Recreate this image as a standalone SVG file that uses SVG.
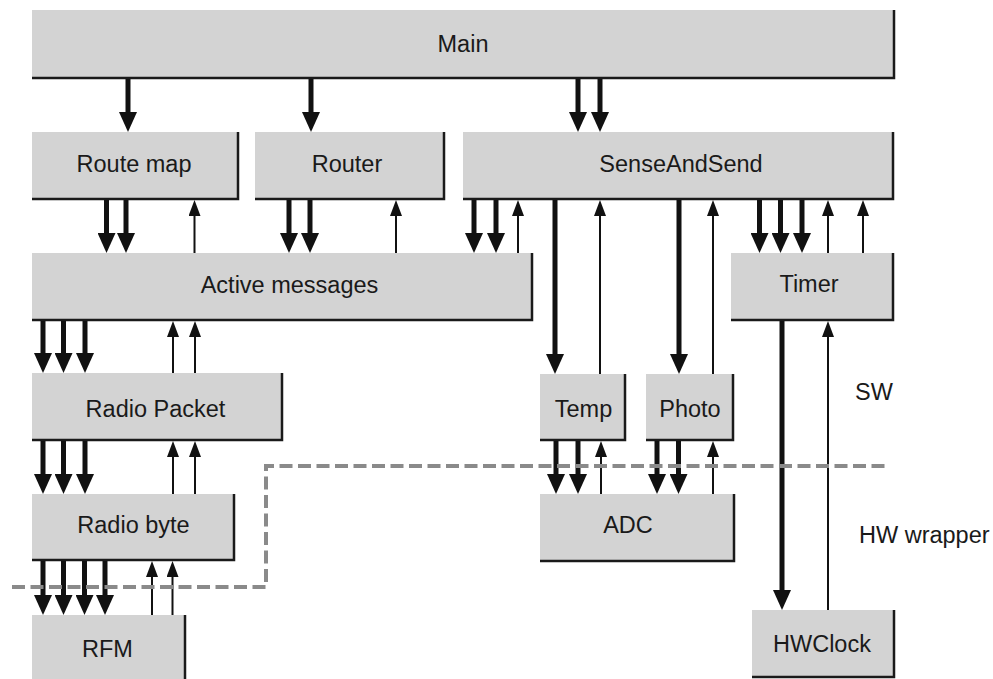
<svg xmlns="http://www.w3.org/2000/svg" width="993" height="679" viewBox="0 0 993 679">
<defs>
<style>
.box{fill:#d3d3d3}
.edge{fill:none;stroke:#1a1a1a;stroke-width:2.5}
.lbl{font-family:"Liberation Sans",Arial,sans-serif;font-size:23.5px;fill:#1a1a1a;text-anchor:middle}
.side{font-family:"Liberation Sans",Arial,sans-serif;font-size:23.5px;fill:#1a1a1a}
.thick{stroke:#111;stroke-width:5;fill:none;marker-end:url(#hThick)}
.thin{stroke:#111;stroke-width:2;fill:none;marker-end:url(#hThin)}
.bound{fill:none;stroke:#8a8a8a;stroke-width:4;stroke-dasharray:13 5.5}
</style>
<marker id="hThick" viewBox="0 0 20 18" markerWidth="20" markerHeight="18" refX="0" refY="9" orient="auto" markerUnits="userSpaceOnUse">
<path d="M0,0 L20,9 L0,18 z" fill="#111"/>
</marker>
<marker id="hThin" viewBox="0 0 16 12" markerWidth="16" markerHeight="12" refX="0" refY="6" orient="auto" markerUnits="userSpaceOnUse">
<path d="M0,0 L16,6 L0,12 z" fill="#111"/>
</marker>
</defs>
<rect width="993" height="679" fill="#fff"/>

<g id="main"><rect class="box" x="32" y="10" width="862" height="68"/><path class="edge" d="M32,78 H894 V10"/><text class="lbl" x="463" y="52">Main</text></g>
<g id="routemap"><rect class="box" x="32" y="132" width="206" height="67"/><path class="edge" d="M32,199 H238 V132"/><text class="lbl" x="134" y="172">Route map</text></g>
<g id="router"><rect class="box" x="255" y="132" width="189" height="67"/><path class="edge" d="M255,199 H444 V132"/><text class="lbl" x="347" y="172">Router</text></g>
<g id="senseandsend"><rect class="box" x="463" y="132" width="430" height="67"/><path class="edge" d="M463,199 H893 V132"/><text class="lbl" x="681" y="172">SenseAndSend</text></g>
<g id="activemessages"><rect class="box" x="32" y="253" width="500" height="67"/><path class="edge" d="M32,320 H532 V253"/><text class="lbl" x="289.5" y="293">Active messages</text></g>
<g id="timer"><rect class="box" x="731" y="253" width="162" height="67"/><path class="edge" d="M731,320 H893 V253"/><text class="lbl" x="809" y="292">Timer</text></g>
<g id="radiopacket"><rect class="box" x="32" y="373" width="250" height="67"/><path class="edge" d="M32,440 H282 V373"/><text class="lbl" x="155.5" y="417">Radio Packet</text></g>
<g id="temp"><rect class="box" x="540" y="374" width="85" height="66"/><path class="edge" d="M540,440 H625 V374"/><text class="lbl" x="583.5" y="417">Temp</text></g>
<g id="photo"><rect class="box" x="646" y="374" width="87" height="66"/><path class="edge" d="M646,440 H733 V374"/><text class="lbl" x="690" y="417">Photo</text></g>
<g id="radiobyte"><rect class="box" x="32" y="494" width="202" height="66"/><path class="edge" d="M32,560 H234 V494"/><text class="lbl" x="133.5" y="533">Radio byte</text></g>
<g id="adc"><rect class="box" x="540" y="494" width="194" height="67"/><path class="edge" d="M540,561 H734 V494"/><text class="lbl" x="628" y="533">ADC</text></g>
<g id="rfm"><rect class="box" x="32" y="615" width="153" height="70"/><path class="edge" d="M185,615 V685"/><text class="lbl" x="107.5" y="657">RFM</text></g>
<g id="hwclock"><rect class="box" x="752" y="610" width="142" height="67"/><path class="edge" d="M752,677 H894 V610"/><text class="lbl" x="822" y="652">HWClock</text></g>

<g id="connectors">
<!-- Main to row 2 -->
<line class="thick" x1="128" y1="79" x2="128" y2="112"/>
<line class="thick" x1="311" y1="79" x2="311" y2="112"/>
<line class="thick" x1="578" y1="79" x2="578" y2="112"/>
<line class="thick" x1="600" y1="79" x2="600" y2="112"/>
<!-- Route map / Active messages -->
<line class="thick" x1="106.5" y1="200" x2="106.5" y2="233"/>
<line class="thick" x1="126" y1="200" x2="126" y2="233"/>
<line class="thin" x1="194.5" y1="253" x2="194.5" y2="216"/>
<!-- Router / Active messages -->
<line class="thick" x1="289" y1="200" x2="289" y2="233"/>
<line class="thick" x1="310" y1="200" x2="310" y2="233"/>
<line class="thin" x1="396" y1="253" x2="396" y2="216"/>
<!-- SenseAndSend / Active messages -->
<line class="thick" x1="474" y1="200" x2="474" y2="233"/>
<line class="thick" x1="496" y1="200" x2="496" y2="233"/>
<line class="thin" x1="518" y1="253" x2="518" y2="216"/>
<!-- SenseAndSend / Temp, Photo -->
<line class="thick" x1="555" y1="200" x2="555" y2="354"/>
<line class="thin" x1="600" y1="374" x2="600" y2="216"/>
<line class="thick" x1="679" y1="200" x2="679" y2="354"/>
<line class="thin" x1="713" y1="374" x2="713" y2="216"/>
<!-- SenseAndSend / Timer -->
<line class="thick" x1="759.5" y1="200" x2="759.5" y2="233"/>
<line class="thick" x1="780.5" y1="200" x2="780.5" y2="233"/>
<line class="thick" x1="802" y1="200" x2="802" y2="233"/>
<line class="thin" x1="828" y1="253" x2="828" y2="216"/>
<line class="thin" x1="863" y1="253" x2="863" y2="216"/>
<!-- Active messages / Radio Packet -->
<line class="thick" x1="43" y1="321" x2="43" y2="353"/>
<line class="thick" x1="63.5" y1="321" x2="63.5" y2="353"/>
<line class="thick" x1="85" y1="321" x2="85" y2="353"/>
<line class="thin" x1="173" y1="373" x2="173" y2="337"/>
<line class="thin" x1="195" y1="373" x2="195" y2="337"/>
<!-- Radio Packet / Radio byte -->
<line class="thick" x1="43" y1="441" x2="43" y2="474"/>
<line class="thick" x1="63.5" y1="441" x2="63.5" y2="474"/>
<line class="thick" x1="85" y1="441" x2="85" y2="474"/>
<line class="thin" x1="173" y1="494" x2="173" y2="457"/>
<line class="thin" x1="195" y1="494" x2="195" y2="457"/>
<!-- Radio byte / RFM -->
<line class="thick" x1="43" y1="561" x2="43" y2="595"/>
<line class="thick" x1="63.5" y1="561" x2="63.5" y2="595"/>
<line class="thick" x1="84.5" y1="561" x2="84.5" y2="595"/>
<line class="thick" x1="105" y1="561" x2="105" y2="595"/>
<line class="thin" x1="152" y1="615" x2="152" y2="577"/>
<line class="thin" x1="172.5" y1="615" x2="172.5" y2="577"/>
<!-- Temp / ADC -->
<line class="thick" x1="556" y1="441" x2="556" y2="474"/>
<line class="thick" x1="578" y1="441" x2="578" y2="474"/>
<line class="thin" x1="601" y1="494" x2="601" y2="457"/>
<!-- Photo / ADC -->
<line class="thick" x1="657" y1="441" x2="657" y2="474"/>
<line class="thick" x1="678.5" y1="441" x2="678.5" y2="474"/>
<line class="thin" x1="713" y1="494" x2="713" y2="457"/>
<!-- Timer / HWClock -->
<line class="thick" x1="782" y1="321" x2="782" y2="590"/>
<line class="thin" x1="828" y1="610" x2="828" y2="337"/>
</g>

<g id="boundary">
<path class="bound" d="M12,587 H266 V466 H890"/>
<text class="side" x="855" y="400">SW</text>
<text class="side" x="859" y="543">HW wrapper</text>
</g>
</svg>
